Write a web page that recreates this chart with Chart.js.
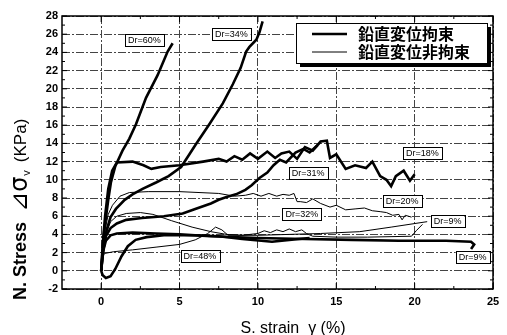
<!DOCTYPE html>
<html>
<head>
<meta charset="utf-8">
<script src="https://cdn.jsdelivr.net/npm/chart.js@4.4.0/dist/chart.umd.min.js"></script>
<style>
  html, body { margin: 0; padding: 0; background: #fff; }
</style>
</head>
<body>
<canvas id="grafico" width="507" height="335"></canvas>
<script>
// ejes
const xTicks = [0, 5, 10, 15, 20, 25];
const yTicks = [-2, 0, 2, 4, 6, 8, 10, 12, 14, 16, 18, 20, 22, 24, 26, 28];

// curvas con restriccion vertical (linea gruesa)  [strain, stress]
const dr60 = [[0,0],[0.1,2.5],[0.2,4.5],[0.3,5.8],[0.45,7.8],[0.62,9.7],[0.9,11.5],[1.36,13.2],[1.79,14.5],[2.22,16.1],[2.86,19.0],[3.6,21.5],[4.24,24.1],[4.56,25.0]];
const dr34 = [[0,0],[0.15,2.5],[0.35,4.5],[0.6,5.9],[0.94,6.8],[1.5,7.8],[2.0,8.4],[2.64,9.0],[3.5,9.7],[4.3,10.4],[5.1,11.4],[5.63,12.8],[6.0,13.8],[6.9,16.1],[7.76,18.4],[8.4,20.5],[8.9,22.3],[9.25,24.1],[9.46,24.6],[9.9,25.4],[10.1,26.2],[10.3,27.4]];
const dr18 = [[0,0],[0.1,3],[0.25,6],[0.45,9],[0.7,11],[1.0,11.9],[2.0,12.0],[2.7,11.6],[3.2,11.2],[3.8,11.4],[5.0,11.6],[6.5,12.0],[7.5,12.3],[8.0,12.0],[8.5,12.6],[9.0,12.2],[9.5,12.9],[10.0,12.3],[10.6,13.1],[11.1,12.4],[11.5,12.9],[12.0,13.1],[12.5,12.3],[13.0,13.6],[13.5,13.2],[14.0,14.2],[14.4,14.3],[14.6,12.4],[15.0,12.8],[15.6,11.2],[16.2,11.6],[16.9,11.3],[17.3,12.0],[17.8,10.4],[18.2,10.0],[18.5,9.3],[18.8,10.4],[19.3,11.0],[19.7,9.9],[20.0,10.6]];
const dr31 = [[0,0],[0.1,2],[0.3,3.8],[0.6,4.7],[1.0,5.2],[1.6,5.6],[2.6,5.8],[4.0,6.0],[5.2,6.3],[6.0,6.8],[7.0,7.4],[7.5,7.8],[8.0,8.1],[8.6,8.4],[9.2,8.9],[9.6,9.4],[10.1,10.2],[10.6,10.8],[11.0,11.6],[11.4,12.2],[11.8,11.9],[12.4,13.0],[12.9,13.4],[13.3,13.0],[13.8,13.8]];
const dr48 = [[0,0],[0.1,-0.5],[0.3,-0.8],[0.6,-0.6],[0.9,0.2],[1.3,1.6],[1.7,2.7],[2.2,3.4],[2.9,3.7],[4.0,3.9],[6.0,3.9],[7.5,3.8],[9.0,3.5],[10.9,3.2],[12.0,3.4],[13.3,3.6]];
const dr9a = [[0,0],[0.1,2.0],[0.3,3.3],[0.6,3.9],[1.0,4.1],[2.0,4.2],[3.5,4.1],[5.0,4.0],[7.0,3.8],[10.0,3.6],[13.0,3.5],[16.0,3.4],[19.0,3.3],[22.0,3.3],[23.6,3.2],[23.8,2.9],[23.6,2.4]];

// curvas sin restriccion vertical (linea fina)
const dr20 = [[0,0],[0.1,2.5],[0.25,4.5],[0.45,6.2],[0.72,7.2],[1.2,8.2],[1.8,8.6],[3,8.7],[5,8.7],[7.5,8.5],[8.5,8.2],[9.2,8.3],[9.7,8.5],[10.2,8.2],[10.7,8.5],[11.2,8.2],[11.6,8.4],[12.0,8.3],[12.3,8.5],[12.5,7.6],[12.7,7.6],[13.1,7.5],[13.5,7.9],[14.0,7.4],[14.6,7.0],[15.0,7.2],[15.6,6.7],[16.2,6.8],[16.8,6.9],[17.3,6.6],[17.8,6.5],[18.2,6.4],[18.6,6.1],[19.0,6.2],[19.2,5.6],[19.4,6.1],[19.8,5.9]];
const dr32 = [[0,0],[0.1,2.0],[0.3,4.0],[0.6,5.4],[1.0,6.0],[1.6,6.3],[2.5,6.4],[3.3,6.2],[4.5,5.5],[5.8,4.8],[7.0,4.3],[8.0,4.0],[9.0,3.9],[10.0,4.1],[10.4,4.4],[10.8,4.2],[11.2,4.5],[11.6,4.3],[12.0,4.6],[12.4,4.3],[12.8,4.5],[13.1,4.1],[13.5,3.8],[15,3.7],[17,3.7],[19.8,3.8],[20.1,4.4],[20.5,5.1]];
const dr9b = [[0,0],[0.05,1.2],[0.2,1.9],[0.8,2.1],[2.0,2.3],[3.5,2.6],[5.0,2.9],[6.0,3.4],[6.8,4.1],[7.3,4.8],[7.7,4.5],[8.1,3.9],[10,3.9],[12,4.0],[14,4.1],[16.5,4.3],[18.5,4.8],[20.8,5.4]];

// etiquetas Dr (texto, strain, stress)
const drNames = ['Dr=60%', 'Dr=34%', 'Dr=18%', 'Dr=31%', 'Dr=20%', 'Dr=32%', 'Dr=9%', 'Dr=9%', 'Dr=48%'];
const drX = [2.75, 8.3, 20.5, 13.2, 19.2, 12.8, 22.1, 23.7, 6.3];
const drY = [25.4, 26.0, 12.9, 10.8, 7.7, 6.2, 5.5, 1.5, 1.6];

const legendNames = ['鉛直変位拘束', '鉛直変位非拘束'];

const FONT = "'Liberation Sans', Arial, sans-serif";

function serie(puntos, grueso) {
  return {
    data: puntos.map(p => ({x: p[0], y: p[1]})),
    showLine: true,
    borderColor: '#000',
    borderWidth: grueso ? 2.6 : 1,
    pointRadius: 0,
    tension: 0,
    fill: false
  };
}

//Dibujamos marco, ticks interiores, etiquetas, leyenda y titulos
const extras = {
  id: 'extras',
  beforeDatasetsDraw(chart) {
    const ctx = chart.ctx, a = chart.chartArea;
    const xs = chart.scales.x, ys = chart.scales.y;
    ctx.save();
    ctx.strokeStyle = '#000';
    ctx.lineWidth = 1.5;
    ctx.strokeRect(a.left, a.top, a.right - a.left, a.bottom - a.top);
    ctx.lineWidth = 1;
    ctx.beginPath();
    for (let v = -2; v <= 28; v++) {
      const py = ys.getPixelForValue(v);
      const len = v % 2 === 0 ? 5 : 3;
      ctx.moveTo(a.left, py); ctx.lineTo(a.left + len, py);
      ctx.moveTo(a.right, py); ctx.lineTo(a.right - len, py);
    }
    for (let v = 0; v <= 25; v += 2.5) {
      const px = xs.getPixelForValue(v);
      const len = v % 5 === 0 ? 6 : 3;
      ctx.moveTo(px, a.bottom); ctx.lineTo(px, a.bottom - len);
      ctx.moveTo(px, a.top); ctx.lineTo(px, a.top + len);
    }
    ctx.stroke();
    ctx.restore();
  },
  afterDatasetsDraw(chart) {
    const ctx = chart.ctx, a = chart.chartArea;
    const xs = chart.scales.x, ys = chart.scales.y;
    ctx.save();

    // etiquetas Dr
    ctx.font = '9px ' + FONT;
    ctx.textAlign = 'center';
    ctx.textBaseline = 'middle';
    for (let i = 0; i < drNames.length; i++) {
      const cx = xs.getPixelForValue(drX[i]);
      const cy = ys.getPixelForValue(drY[i]);
      const w = ctx.measureText(drNames[i]).width + 6;
      const h = 12;
      ctx.fillStyle = '#fff';
      ctx.fillRect(cx - w / 2, cy - h / 2, w, h);
      ctx.strokeStyle = '#000';
      ctx.lineWidth = 1;
      ctx.strokeRect(Math.round(cx - w / 2) + 0.5, Math.round(cy - h / 2) + 0.5, Math.round(w), h);
      ctx.fillStyle = '#000';
      ctx.fillText(drNames[i], cx, cy + 0.5);
    }

    // leyenda
    const lx = a.right - 197, ly = a.top + 7, lw = 191, lh = 40;
    ctx.fillStyle = '#000';
    ctx.fillRect(lx + 4, ly + 4, lw, lh);
    ctx.fillStyle = '#fff';
    ctx.fillRect(lx, ly, lw, lh);
    ctx.strokeStyle = '#000';
    ctx.lineWidth = 1;
    ctx.strokeRect(lx + 0.5, ly + 0.5, lw, lh);
    ctx.beginPath();
    ctx.lineWidth = 2.6;
    ctx.moveTo(lx + 16, ly + 11); ctx.lineTo(lx + 51, ly + 11);
    ctx.stroke();
    ctx.beginPath();
    ctx.lineWidth = 1;
    ctx.moveTo(lx + 16, ly + 29); ctx.lineTo(lx + 51, ly + 29);
    ctx.stroke();
    ctx.fillStyle = '#000';
    ctx.textAlign = 'left';
    ctx.font = "bold 16px 'Noto Sans CJK JP', sans-serif";
    ctx.fillText(legendNames[0], lx + 62, ly + 11);
    ctx.fillText(legendNames[1], lx + 62, ly + 29);

    // titulo eje y
    ctx.translate(21, 300);
    ctx.rotate(-Math.PI / 2);
    ctx.textBaseline = 'middle';
    let px = 0;
    ctx.font = 'bold 18px ' + FONT;
    ctx.fillText('N. Stress', px, 0);
    px += ctx.measureText('N. Stress').width + 10;
    ctx.font = "24px 'DejaVu Sans', sans-serif";
    ctx.fillText('⊿σ', px, 0);
    px += ctx.measureText('⊿σ').width + 1;
    ctx.font = '11px ' + FONT;
    ctx.fillText('v', px, 6);
    px += ctx.measureText('v').width + 8;
    ctx.font = '17px ' + FONT;
    ctx.fillText('(KPa)', px, 0);
    ctx.setTransform(1, 0, 0, 1, 0, 0);

    // titulo eje x
    ctx.font = '16px ' + FONT;
    ctx.textAlign = 'center';
    ctx.textBaseline = 'alphabetic';
    ctx.fillText('S. strain  γ (%)', 293, 333);
    ctx.restore();
  }
};

let ctx = document.getElementById('grafico').getContext('2d');
let grafico = new Chart(ctx, {
  type: 'scatter',
  data: {
    datasets: [
      serie(dr60, true), serie(dr34, true), serie(dr18, true), serie(dr31, true),
      serie(dr48, true), serie(dr9a, true),
      serie(dr20, false), serie(dr32, false), serie(dr9b, false)
    ]
  },
  options: {
    responsive: false,
    animation: false,
    layout: { padding: { left: 0, right: 14, top: 16, bottom: 0 } },
    plugins: { legend: { display: false }, tooltip: { enabled: false } },
    scales: {
      x: {
        type: 'linear',
        min: -2.5,
        max: 25,
        afterBuildTicks: s => { s.ticks = xTicks.map(v => ({value: v})); },
        afterFit: s => { s.height = 46; },
        grid: { color: '#444', lineWidth: 1, drawTicks: false },
        border: { display: false, dash: [8, 2, 2, 2] },
        ticks: { color: '#000', padding: 6, font: { family: FONT, size: 11, weight: 'bold' } }
      },
      y: {
        type: 'linear',
        min: -2,
        max: 28,
        afterBuildTicks: s => { s.ticks = yTicks.map(v => ({value: v})); },
        afterFit: s => { s.width = 62; },
        grid: { color: '#444', lineWidth: 1, drawTicks: false },
        border: { display: false, dash: [8, 2, 2, 2] },
        ticks: { color: '#000', padding: 4, font: { family: FONT, size: 11, weight: 'bold' } }
      }
    }
  },
  plugins: [extras]
});
</script>
</body>
</html>
